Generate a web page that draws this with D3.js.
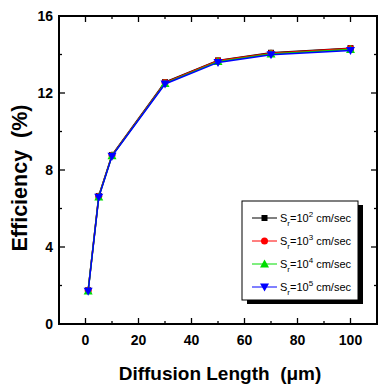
<!DOCTYPE html>
<html>
<head>
<meta charset="utf-8">
<script src="https://cdn.jsdelivr.net/npm/d3@7"></script>
<style>
  body { margin: 0; background: #fff; }
  svg { display: block; font-family: "Liberation Sans", Arial, sans-serif; }
</style>
</head>
<body>
<svg id="chart" width="379" height="387"></svg>
<script>
// diffusion length (um)
const diffLength = [1, 5, 10, 30, 50, 70, 100];

// efficiency (%) for each recombination velocity
const effSr2 = [1.75, 6.65, 8.78, 12.56, 13.69, 14.09, 14.33];
const effSr3 = [1.74, 6.63, 8.76, 12.54, 13.67, 14.07, 14.31];
const effSr4 = [1.72, 6.60, 8.74, 12.50, 13.63, 14.03, 14.26];
const effSr5 = [1.70, 6.58, 8.72, 12.47, 13.59, 13.99, 14.21];

const srExponents = ['2', '3', '4', '5'];
const seriesColors = ['#000000', '#ff0000', '#00dd00', '#0000ff'];
const seriesShapes = ['square', 'circle', 'triangle', 'triangleDown'];

const xTicks = [0, 20, 40, 60, 80, 100];
const yTicks = [0, 4, 8, 12, 16];

const series = [effSr2, effSr3, effSr4, effSr5].map((vals, i) => ({
  exp: srExponents[i],
  color: seriesColors[i],
  shape: seriesShapes[i],
  points: vals.map((v, j) => ({x: diffLength[j], y: v}))
}));

const margin = {left: 59, right: 2, top: 16, bottom: 63};
const width = 379, height = 387;

const svg = d3.select('#chart');

const x = d3.scaleLinear().domain([-10, 110]).range([margin.left, width - margin.right]);
const y = d3.scaleLinear().domain([0, 16]).range([height - margin.bottom, margin.top]);

const x0 = x.range()[0], x1 = x.range()[1];
const y0 = y.range()[0], y1 = y.range()[1];

// minor + major ticks (inward on all four sides)
const xMinor = d3.range(-10, 111, 10).filter(v => !xTicks.includes(v) && v > -10 && v < 110);
const yMinor = d3.range(2, 16, 4);

const tickG = svg.append('g').attr('stroke', '#000').attr('stroke-width', 1.3);
xTicks.forEach(v => {
  tickG.append('line').attr('x1', x(v)).attr('x2', x(v)).attr('y1', y0).attr('y2', y0 - 6);
  tickG.append('line').attr('x1', x(v)).attr('x2', x(v)).attr('y1', y1).attr('y2', y1 + 6);
});
xMinor.forEach(v => {
  tickG.append('line').attr('x1', x(v)).attr('x2', x(v)).attr('y1', y0).attr('y2', y0 - 3);
  tickG.append('line').attr('x1', x(v)).attr('x2', x(v)).attr('y1', y1).attr('y2', y1 + 3);
});
yTicks.forEach(v => {
  tickG.append('line').attr('x1', x0).attr('x2', x0 + 6).attr('y1', y(v)).attr('y2', y(v));
  tickG.append('line').attr('x1', x1).attr('x2', x1 - 6).attr('y1', y(v)).attr('y2', y(v));
});
yMinor.forEach(v => {
  tickG.append('line').attr('x1', x0).attr('x2', x0 + 3).attr('y1', y(v)).attr('y2', y(v));
  tickG.append('line').attr('x1', x1).attr('x2', x1 - 3).attr('y1', y(v)).attr('y2', y(v));
});

// frame
svg.append('rect')
  .attr('x', x0).attr('y', y1)
  .attr('width', x1 - x0).attr('height', y0 - y1)
  .attr('fill', 'none').attr('stroke', '#000').attr('stroke-width', 2);

// tick labels
svg.append('g').selectAll('text')
  .data(xTicks).join('text')
  .attr('x', d => x(d)).attr('y', y0 + 21)
  .attr('text-anchor', 'middle')
  .style('font-size', '14px').style('font-weight', 'bold')
  .text(d => d);

svg.append('g').selectAll('text')
  .data(yTicks).join('text')
  .attr('x', x0 - 6).attr('y', d => y(d) + 5)
  .attr('text-anchor', 'end')
  .style('font-size', '14px').style('font-weight', 'bold')
  .text(d => d);

// axis titles
svg.append('text')
  .attr('x', 220).attr('y', 380)
  .attr('text-anchor', 'middle')
  .style('font-size', '19px').style('font-weight', 'bold')
  .attr('xml:space', 'preserve')
  .text('Diffusion Length  (\u03bcm)');

svg.append('text')
  .attr('transform', 'translate(27,178) rotate(-90)')
  .attr('text-anchor', 'middle')
  .style('font-size', '21.5px').style('font-weight', 'bold')
  .attr('xml:space', 'preserve')
  .text('Efficiency  (%)');

// markers
function drawMarker(g, shape, cx, cy, color) {
  if (shape === 'square') {
    g.append('rect').attr('x', cx - 3).attr('y', cy - 3).attr('width', 6).attr('height', 6).attr('fill', color);
  } else if (shape === 'circle') {
    g.append('circle').attr('cx', cx).attr('cy', cy).attr('r', 3.5).attr('fill', color);
  } else if (shape === 'triangle') {
    g.append('path').attr('d', `M${cx},${cy - 4.5}L${cx + 4.5},${cy + 3.5}L${cx - 4.5},${cy + 3.5}Z`).attr('fill', color);
  } else {
    g.append('path').attr('d', `M${cx},${cy + 4.5}L${cx + 4.5},${cy - 3.5}L${cx - 4.5},${cy - 3.5}Z`).attr('fill', color);
  }
}

const line = d3.line().x(d => x(d.x)).y(d => y(d.y));

series.forEach(s => {
  const g = svg.append('g');
  g.append('path')
    .attr('d', line(s.points))
    .attr('fill', 'none')
    .attr('stroke', s.color)
    .attr('stroke-width', 1.5);
  s.points.forEach(p => drawMarker(g, s.shape, x(p.x), y(p.y), s.color));
});

// legend
const lg = {x: 242, y: 201, w: 116, h: 99, rowH: 23};
svg.append('rect')
  .attr('x', lg.x + 5).attr('y', lg.y + 4)
  .attr('width', lg.w).attr('height', lg.h)
  .attr('fill', '#000');
svg.append('rect')
  .attr('x', lg.x).attr('y', lg.y)
  .attr('width', lg.w).attr('height', lg.h)
  .attr('fill', '#fff').attr('stroke', '#000').attr('stroke-width', 1);

series.forEach((s, i) => {
  const ry = lg.y + 17 + i * lg.rowH;
  const g = svg.append('g');
  g.append('line')
    .attr('x1', lg.x + 10).attr('x2', lg.x + 35)
    .attr('y1', ry).attr('y2', ry)
    .attr('stroke', s.color).attr('stroke-width', 1);
  drawMarker(g, s.shape, lg.x + 22.5, ry, s.color);
  const t = g.append('text')
    .attr('x', lg.x + 38).attr('y', ry + 4)
    .style('font-size', '11px');
  t.append('tspan').text('S');
  t.append('tspan').attr('dy', 4).style('font-size', '8px').text('r');
  t.append('tspan').attr('dy', -4).text('=10');
  t.append('tspan').attr('dy', -5).style('font-size', '8px').text(s.exp);
  t.append('tspan').attr('dy', 5).text(' cm/sec');
});
</script>
</body>
</html>
